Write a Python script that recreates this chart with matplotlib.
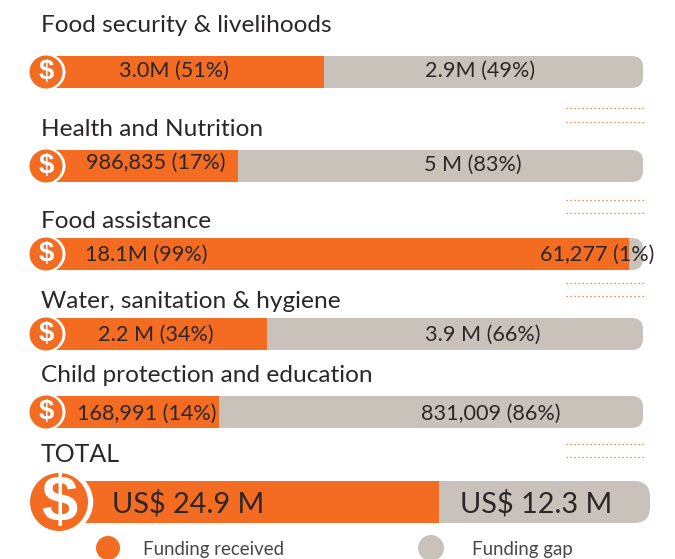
import matplotlib
matplotlib.use("Agg")
import matplotlib.pyplot as plt
from matplotlib.patches import Circle, FancyBboxPatch, Rectangle

# Sector rows
sectors = ["Food security & livelihoods", "Health and Nutrition", "Food assistance",
           "Water, sanitation & hygiene", "Child protection and education"]
received_labels = ["3.0M (51%)", "986,835 (17%)", "18.1M (99%)", "2.2 M (34%)", "168,991 (14%)"]
gap_labels = ["2.9M (49%)", "5 M (83%)", "61,277 (1%)", "3.9 M (66%)", "831,009 (86%)"]
# Orange length as drawn in the picture, px from the track start (the drawing is not to scale)
received_drawn = [278, 192, 583, 221, 173]
track_drawn = [597, 597, 597, 597, 597]

total_title = "TOTAL"
total_received_label = "US$ 24.9 M"
total_gap_label = "US$ 12.3 M"
total_received_drawn = 380
total_track_drawn = 591

legend_labels = ["Funding received", "Funding gap"]

# Layout and style
ORANGE = "#F36C21"
GRAY = "#C9C2BB"
INK = "#2B2728"
FONT = "Lato"
bar_tops = [56, 150, 238, 318, 396]
bar_h = 32
title_y = [26, 129, 222, 302, 376]
received_text_x = [174, 156, 146, 156, 147]
gap_text_x = [480, 473, 597, 483, 491]
received_text_dy = [-1, -3, 1, 1, 2]
gap_text_dy = [-1, -1, 1, 1, 2]
dot_rows = [(108, 121.5), (200, 213), (282.5, 296), (443.5, 457)]

fig = plt.figure(figsize=(6.75, 5.59), dpi=100)
ax = fig.add_axes([0, 0, 1, 1])
ax.set_xlim(0, 675)
ax.set_ylim(559, 0)
ax.axis("off")


def draw_bar(x0, top, h, rec, track, r, cx, cr, sym_size, sym_dy):
    cy = top + h / 2
    gray = FancyBboxPatch((x0, top), track, h, boxstyle=f"round,pad=0,rounding_size={r}",
                          fc=GRAY, ec="none", zorder=1)
    ax.add_patch(gray)
    orange = Rectangle((x0, top), rec, h, fc=ORANGE, ec="none", zorder=2)
    ax.add_patch(orange)
    ax.add_patch(Circle((cx + cr * 0.09, cy), cr * 1.09, fc="white", ec="none", zorder=3))
    ax.add_patch(Circle((cx, cy), cr, fc=ORANGE, ec="none", zorder=4))
    ax.text(cx, cy + sym_dy, "$", color="white", fontsize=sym_size, fontweight="bold",
            family="Liberation Sans", ha="center", va="center", zorder=5)


for i, name in enumerate(sectors):
    top = bar_tops[i]
    ax.text(41, title_y[i], name, fontsize=17.6, family=FONT, color=INK,
            ha="left", va="center", zorder=6)
    draw_bar(46, top, bar_h, received_drawn[i], track_drawn[i], 11, 46, 16.5, 20, 0)
    cy = top + bar_h / 2
    ax.text(received_text_x[i], cy + received_text_dy[i], received_labels[i], fontsize=15.6,
            family=FONT, color=INK, ha="center", va="center", zorder=6)
    ax.text(gap_text_x[i], cy + gap_text_dy[i], gap_labels[i], fontsize=15.6,
            family=FONT, color=INK, ha="center", va="center", zorder=6)

ax.text(41, 455, total_title, fontsize=18, family=FONT, color=INK, ha="left", va="center", zorder=6)
draw_bar(59, 481, 42, total_received_drawn, total_track_drawn, 16, 59, 29, 47, 2)
ax.text(188, 504, total_received_label, fontsize=20.8, family=FONT, color=INK,
        ha="center", va="center", zorder=6)
ax.text(536, 504, total_gap_label, fontsize=20.8, family=FONT, color=INK,
        ha="center", va="center", zorder=6)

for ys in dot_rows:
    for y in ys:
        ax.plot([566, 644], [y, y], color=ORANGE, lw=0.9, ls=(0, (1, 2.2)), zorder=1)

ax.add_patch(Circle((108, 548), 12, fc=ORANGE, ec="none", zorder=2))
ax.add_patch(Circle((431, 548), 13, fc=GRAY, ec="none", zorder=2))
ax.text(143, 549, legend_labels[0], fontsize=13.4, family=FONT, color="#4A4647", ha="left", va="center")
ax.text(472, 549, legend_labels[1], fontsize=13.4, family=FONT, color="#4A4647", ha="left", va="center")

fig.savefig("out.png", dpi=100, facecolor="white")
